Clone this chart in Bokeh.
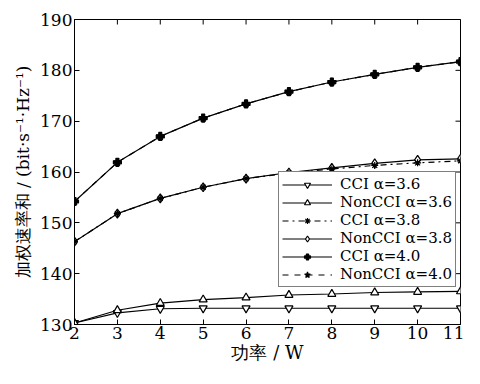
import math
from bokeh.plotting import figure
from bokeh.models import Range1d, FixedTicker, Legend
from bokeh.embed import file_html
from bokeh.resources import INLINE

power = [2, 3, 4, 5, 6, 7, 8, 9, 10, 11]
cci_36 = [130.3, 132.3, 133.1, 133.2, 133.2, 133.2, 133.2, 133.2, 133.2, 133.2]
noncci_36 = [130.3, 132.8, 134.2, 134.9, 135.3, 135.8, 136.0, 136.3, 136.4, 136.5]
cci_38 = [146.3, 151.8, 154.8, 157.0, 158.7, 159.8, 160.6, 161.3, 161.8, 162.2]
noncci_38 = [146.3, 151.8, 154.8, 157.0, 158.7, 159.9, 160.8, 161.7, 162.4, 162.6]
cci_40 = [154.2, 161.9, 167.0, 170.6, 173.4, 175.8, 177.7, 179.2, 180.6, 181.7]
noncci_40 = [154.2, 161.9, 167.0, 170.6, 173.4, 175.8, 177.7, 179.2, 180.6, 181.7]
x_ticks = [2, 3, 4, 5, 6, 7, 8, 9, 10, 11]
y_ticks = [130, 140, 150, 160, 170, 180, 190]
x_min, x_max = 2, 11
y_min, y_max = 130, 190

SERIF = "'DejaVu Serif', serif"

p = figure(width=464, height=368, output_backend="svg", toolbar_location=None,
           x_range=Range1d(x_min, x_max), y_range=Range1d(y_min, y_max),
           min_border_left=74, min_border_right=4, min_border_top=19, min_border_bottom=44)
p.grid.visible = False
p.outline_line_color = "black"
p.outline_line_width = 1
p.background_fill_color = "white"

for ax in (p.xaxis[0], p.yaxis[0]):
    ax.major_tick_in = 5
    ax.major_tick_out = 0
    ax.minor_tick_line_color = None
    ax.axis_line_color = "black"
    ax.major_tick_line_color = "black"
    ax.major_label_text_font = SERIF
    ax.major_label_text_font_size = "17px"
    ax.major_label_text_color = "black"
    ax.axis_label_text_font = SERIF
    ax.axis_label_text_font_style = "normal"
    ax.axis_label_text_color = "black"
p.xaxis.ticker = FixedTicker(ticks=x_ticks)
p.yaxis.ticker = FixedTicker(ticks=y_ticks)
p.xaxis.axis_label = "功率 / W"
p.yaxis.axis_label = "加权速率和 / (bit·s⁻¹·Hz⁻¹)"
p.xaxis.axis_label_text_font_size = "18px"
p.yaxis.axis_label_text_font_size = "17px"
p.xaxis.major_label_standoff = 2
p.yaxis.major_label_standoff = 2
p.xaxis.axis_label_standoff = 0
p.yaxis.axis_label_standoff = 4

# mirrored inward ticks on top and right (half of each dash is clipped by the frame)
p.scatter(x_ticks, [y_max] * len(x_ticks), marker="dash", angle=math.pi / 2,
          size=10, line_color="black", line_width=1)
p.scatter([x_max] * len(y_ticks), y_ticks, marker="dash",
          size=10, line_color="black", line_width=1)

items = []
def series(y, label, marker, dash, fill, size=8):
    l = p.line(power, y, line_color="black", line_width=1.2, line_dash=dash)
    s = p.scatter(power, y, marker=marker, size=size, line_color="black",
                  fill_color=fill, line_width=1.2)
    items.append((label, [l, s]))

series(cci_36, "CCI α=3.6", "inverted_triangle", "solid", "white")
series(noncci_36, "NonCCI α=3.6", "triangle", "solid", "white")
series(noncci_38, "NonCCI α=3.8", "diamond", "solid", "white", 9)
series(cci_38, "CCI α=3.8", "asterisk", "dashdot", "black", 7)
series(cci_40, "CCI α=4.0", "plus", "solid", "black", 8)
series(noncci_40, "NonCCI α=4.0", "star", "dashed", "black", 8)

order = ["CCI α=3.6", "NonCCI α=3.6", "CCI α=3.8", "NonCCI α=3.8", "CCI α=4.0", "NonCCI α=4.0"]
d = dict(items)
legend = Legend(items=[(k, d[k]) for k in order], location=(204, 37))
legend.label_text_font = SERIF
legend.label_text_font_size = "15px"
legend.label_text_color = "black"
legend.glyph_width = 50
legend.glyph_height = 15
legend.label_height = 15
legend.label_standoff = 8
legend.spacing = 0
legend.padding = 3
legend.margin = 0
legend.border_line_color = "black"
legend.border_line_width = 1
legend.background_fill_alpha = 1
p.add_layout(legend, "center")

open("out.html", "w").write(file_html(p, INLINE))
